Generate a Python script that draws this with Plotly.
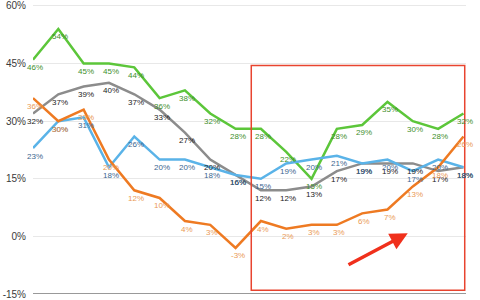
import plotly.graph_objects as go

# Data
idx = list(range(18))
green = [46, 54, 45, 45, 44, 36, 38, 32, 28, 28, 22, 15, 28, 29, 35, 30, 28, 32]
gray = [32, 37, 39, 40, 37, 33, 27, 20, 16, 12, 12, 13, 17, 19, 19, 19, 17, 18]
blue = [23, 30, 31, 18, 26, 20, 20, 18, 16, 15, 19, 20, 21, 19, 20, 17, 20, 18]
orange = [36, 30, 33, 20, 12, 10, 4, 3, -3, 4, 2, 3, 3, 6, 7, 13, 18, 26]
yticks = [-15, 0, 15, 30, 45, 60]
ytick_text = ["-15%", "0%", "15%", "30%", "45%", "60%"]

series = [
    (green, "#5cc63a", "#3e8f2c"),
    (gray, "#8c8c8c", "#222222"),
    (blue, "#5ab3e8", "#3b6790"),
    (orange, "#ee7a22", "#ea9a55"),
]

fig = go.Figure()
annotations = []
for vals, lc, tc in series:
    fig.add_trace(go.Scatter(x=idx, y=vals, mode="lines",
                             line=dict(color=lc, width=2.5), showlegend=False,
                             hoverinfo="skip"))
    for xi, v in zip(idx, vals):
        annotations.append(dict(x=xi, y=v, text=f"{v}%", showarrow=False,
                                xshift=2, yshift=-8,
                                font=dict(size=8, color=tc,
                                          family="Liberation Sans, Arial")))

# highlight box and arrow
x0, x1, y0, y1 = 8.62, 17.05, -14.0, 44.5
fig.add_shape(type="rect", xref="x", yref="y", x0=x0, x1=x1, y0=y0, y1=y1,
              line=dict(color="#e8442f", width=1.5))
annotations.append(dict(x=14.8, y=0.8, ax=12.4, ay=-7.6, xref="x", yref="y",
                        axref="x", ayref="y", text="", showarrow=True,
                        arrowhead=2, arrowsize=1, arrowwidth=3.5,
                        arrowcolor="#f0301c"))

fig.update_layout(
    width=480, height=300,
    margin=dict(l=33, r=14, t=0, b=3),
    paper_bgcolor="white", plot_bgcolor="white",
    annotations=annotations,
    font=dict(family="Liberation Sans, Arial", color="#444444"),
    xaxis=dict(range=[0, 17.1], showgrid=False, showticklabels=False,
               zeroline=False, showline=False),
    yaxis=dict(range=[-15, 61.28], tickvals=yticks, ticktext=ytick_text,
               showgrid=True, gridcolor="#e8e8e8", gridwidth=1,
               zeroline=False, showline=False, ticklabelstandoff=6,
               ticklabeloverflow="allow",
               tickfont=dict(size=10, color="#3a3a3a"), ticks=""),
)
fig.add_shape(type="line", xref="paper", yref="y", x0=0, x1=1, y0=-15, y1=-15,
              line=dict(color="#777777", width=1.5))

fig.write_html("out.html")
